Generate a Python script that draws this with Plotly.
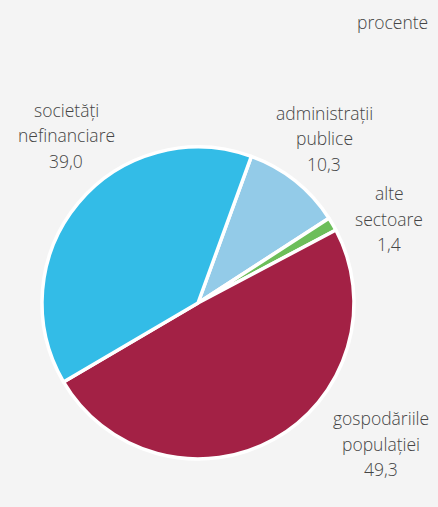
import plotly.graph_objects as go

# Data
categories = ["administrații publice", "alte sectoare", "gospodăriile populației", "societăți nefinanciare"]
label_lines = [["administrații", "publice"], ["alte", "sectoare"], ["gospodăriile", "populației"], ["societăți", "nefinanciare"]]
values = [10.3, 1.4, 49.3, 39.0]
unit_label = "procente"

colors = ["#93CBE8", "#6CBE5A", "#A32145", "#33BCE7"]

W, H = 438, 507
cx, cy, r = 198, 303, 156

fig = go.Figure(go.Pie(
    labels=categories,
    values=values,
    sort=False,
    direction="clockwise",
    rotation=20,
    marker=dict(colors=colors, line=dict(color="white", width=3.5)),
    textinfo="none",
    hoverinfo="label+value",
    showlegend=False,
    domain=dict(x=[(cx - r) / W, (cx + r) / W], y=[(H - cy - r) / H, (H - cy + r) / H]),
))

# label anchor (centre x, first line y) in pixels from top-left
label_pos = [(324, 113), (389, 193), (381, 418), (66, 110)]
line_gap = 25.5
font = dict(family="Open Sans, sans-serif", size=17.5, color="#454545", weight=300)

annotations = []
for lines, v, (x, y) in zip(label_lines, values, label_pos):
    texts = lines + [f"{v:.1f}".replace(".", ",")]
    for i, t in enumerate(texts):
        annotations.append(dict(
            text=t, x=x / W, y=1 - (y + i * line_gap) / H,
            xref="paper", yref="paper", xanchor="center", yanchor="middle",
            showarrow=False, font=font))

annotations.append(dict(text=unit_label, x=392 / W, y=1 - 22 / H, xref="paper", yref="paper",
                        xanchor="center", yanchor="middle", showarrow=False, font=font))

fig.update_layout(
    width=W, height=H,
    margin=dict(l=0, r=0, t=0, b=0),
    paper_bgcolor="#F4F4F4",
    plot_bgcolor="#F4F4F4",
    annotations=annotations,
)

fig.write_html("out.html", config={"displayModeBar": False},
               post_script="document.body.style.margin='0';document.body.style.overflow='hidden';")
